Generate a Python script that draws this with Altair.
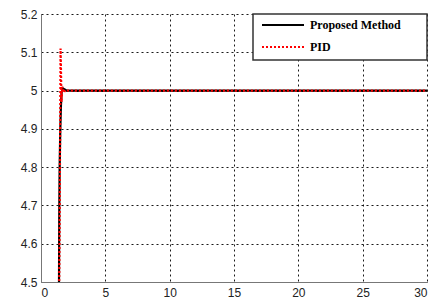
import altair as alt
import pandas as pd

# Proposed Method (black solid)
t_prop = [0.0, 1.32, 1.40, 1.42, 1.45, 1.50, 1.55, 1.60, 1.70, 1.85, 2.0, 2.5, 30.0]
y_prop = [0.0, 4.30, 4.50, 4.68, 4.80, 4.90, 4.96, 4.995, 5.006, 5.003, 5.0, 5.0, 5.0]

# PID (red dotted)
t_pid = [0.0, 1.37, 1.44, 1.48, 1.52, 1.55, 1.59, 1.66, 1.77, 1.92, 2.1, 2.5, 30.0]
y_pid = [0.0, 4.30, 4.60, 4.85, 5.11, 5.06, 4.97, 5.01, 4.995, 5.002, 5.0, 5.0, 5.0]

series_names = ["Proposed Method", "PID"]
series_colors = ["#000000", "#ff0000"]
series_dash = [[1, 0], [2, 2]]

x_ticks = [0, 5, 10, 15, 20, 25, 30]
y_ticks = [4.5, 4.6, 4.7, 4.8, 4.9, 5.0, 5.1, 5.2]

df = pd.concat([
    pd.DataFrame({"t": t_prop, "y": y_prop, "s": series_names[0]}),
    pd.DataFrame({"t": t_pid, "y": y_pid, "s": series_names[1]}),
])

W, H = 386, 268

lines = alt.Chart(df).mark_line(clip=True, interpolate="linear").encode(
    x=alt.X("t:Q", scale=alt.Scale(domain=[0, 30], nice=False),
            axis=alt.Axis(values=x_ticks, title=None)),
    y=alt.Y("y:Q", scale=alt.Scale(domain=[4.5, 5.2], nice=False, zero=False),
            axis=alt.Axis(values=y_ticks, title=None,
                          labelExpr="format(datum.value, '~g')")),
    color=alt.Color("s:N", sort=series_names,
                    scale=alt.Scale(domain=series_names, range=series_colors),
                    legend=None),
    strokeDash=alt.StrokeDash("s:N", sort=series_names,
                              scale=alt.Scale(domain=series_names, range=series_dash),
                              legend=None),
    strokeWidth=alt.value(2.2),
)

# Legend box drawn in the top-right corner
box = alt.Chart(pd.DataFrame({"a": [0]})).mark_rect(
    fill="white", stroke="#333", strokeWidth=1.5
).encode(x=alt.value(W - 174), x2=alt.value(W), y=alt.value(0), y2=alt.value(46))

legend_layers = [box]
row_y = [11, 33]
for name, color, dash, yy in zip(series_names, series_colors, series_dash, row_y):
    ldf = pd.DataFrame({"s": [name]})
    legend_layers.append(
        alt.Chart(ldf).mark_rule(color=color, strokeWidth=2, strokeDash=dash).encode(
            x=alt.value(W - 165), x2=alt.value(W - 123), y=alt.value(yy)))
    legend_layers.append(
        alt.Chart(ldf).mark_text(align="left", baseline="middle", font="Liberation Serif",
                                 fontWeight="bold", fontSize=12, color="#000").encode(
            text="s:N", x=alt.value(W - 117), y=alt.value(yy)))

chart = alt.layer(lines, *legend_layers).properties(
    width=W, height=H,
    autosize=alt.AutoSizeParams(type="none"),
    padding={"left": 33, "top": 6, "right": 6, "bottom": 16},
).configure_view(
    stroke=None
).configure_axis(
    grid=True, gridColor="#000", gridDash=[2, 3], gridOpacity=0.9, gridWidth=1,
    domainColor="#777", domainWidth=1, ticks=False,
    labelFont="Liberation Sans", labelFontSize=12, labelColor="#222", labelPadding=4,
).configure_axisX(labelPadding=5)

chart.save("out.html", embed_options={"renderer": "svg", "actions": False})
